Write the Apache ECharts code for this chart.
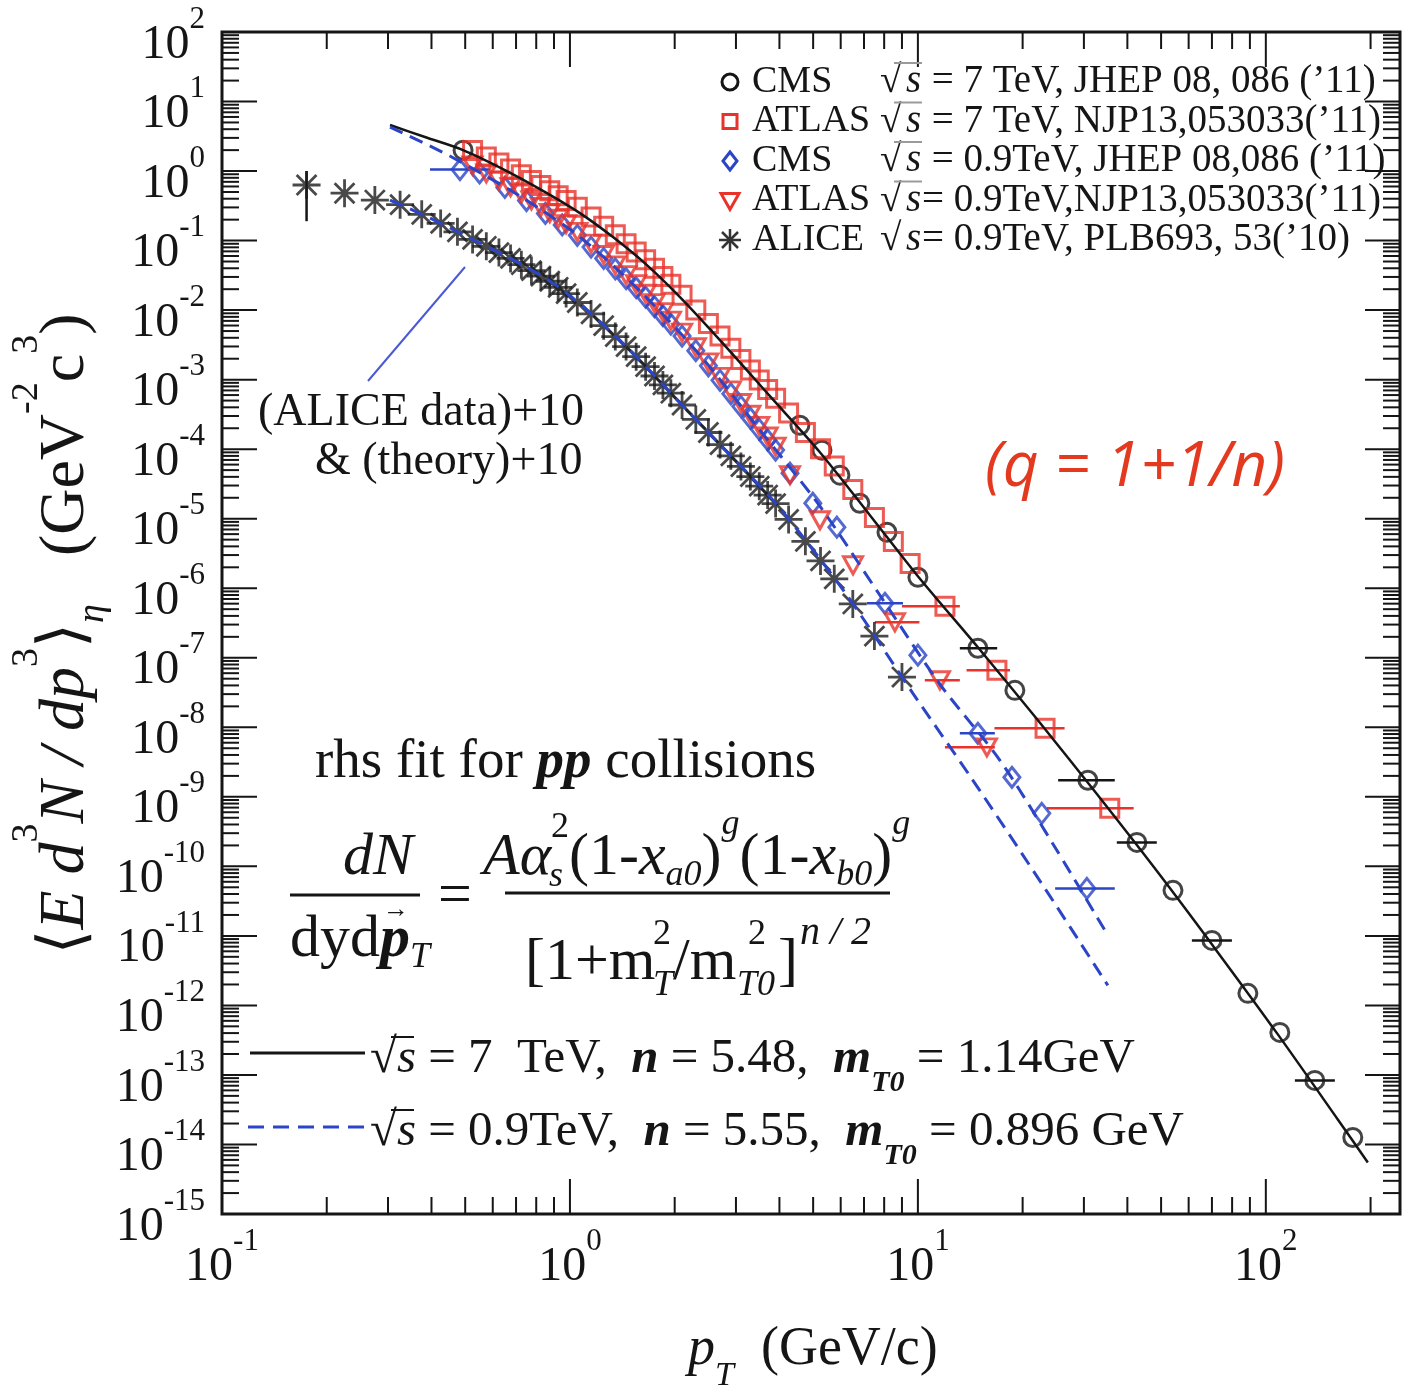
<!DOCTYPE html>
<html>
<head>
<meta charset="utf-8">
<title>pp spectra</title>
<script src="https://cdn.jsdelivr.net/npm/echarts@6/dist/echarts.min.js"></script>
<style>
  html, body { margin: 0; padding: 0; background: #ffffff; }
  #chart { width: 1403px; height: 1397px; }
</style>
</head>
<body>
<div id="chart"></div>
<script>
// ---------- axes ----------
const xDecades = [0.1, 1, 10, 100];
const yDecades = [1e2, 1e1, 1e0, 1e-1, 1e-2, 1e-3, 1e-4, 1e-5, 1e-6, 1e-7, 1e-8,
                  1e-9, 1e-10, 1e-11, 1e-12, 1e-13, 1e-14, 1e-15];
const xRange = [0.1, 243];
const yRange = [1e-15, 1e2];

// ---------- measured spectra: [pT (GeV/c), <E d3N/dp3>] ----------
const cms7 = [[0.493,2.0],[4.58,2.21e-4],[5.30,9.68e-5],
  [5.97,4.23e-5],[6.81,1.67e-5],[8.15,6.39e-6],[10.0,1.44e-6],[14.87,1.37e-7],[19.0,3.40e-8],
  [30.8,1.73e-9],[42.6,2.21e-10],[54.1,4.52e-11],[70.0,8.61e-12],[88.8,1.49e-12],[109.7,4.09e-13],
  [138.3,8.34e-14],[177.8,1.26e-14]];

const atlas7 = [[0.525,1.978],[0.575,1.592],[0.625,1.305],[0.675,1.072],[0.725,0.882],[0.775,0.734],
  [0.825,0.618],[0.875,0.523],[0.925,0.442],[0.975,0.377],[1.05,0.301],[1.15,0.2184],[1.25,0.1612],
  [1.35,0.1209],[1.45,0.0900],[1.55,0.0684],[1.65,0.0528],[1.75,0.0400],[1.85,0.0305],[1.95,0.0236],
  [2.1,0.01638],[2.3,0.01003],[2.5,6.41e-3],[2.7,4.23e-3],[2.9,2.83e-3],[3.1,1.95e-3],[3.3,1.373e-3],
  [3.5,9.87e-4],[3.7,7.23e-4],[3.9,5.38e-4],[4.25,3.32e-4],[4.75,1.74e-4],[5.25,1.012e-4],[5.75,5.71e-5],
  [6.5,2.63e-5],[7.5,1.041e-5],[8.5,4.70e-6],[9.5,2.26e-6],[11.96,5.51e-7],[16.87,6.61e-8],
  [23.2,9.68e-9],[35.6,6.84e-10]];

const cms09 = [[0.483,1.05],[0.55,0.938],[0.65,0.581],[0.75,0.377],[0.85,0.2456],[0.95,0.1679],
  [1.05,0.1192],[1.15,0.0806],[1.25,0.0554],[1.35,0.0392],[1.45,0.0283],[1.55,0.0210],[1.65,0.01535],
  [1.75,0.01122],[1.85,8.33e-3],[1.95,6.29e-3],[2.1,4.23e-3],[2.3,2.61e-3],[2.5,1.582e-3],[2.7,9.78e-4],
  [2.9,6.26e-4],[3.1,4.12e-4],[3.3,2.79e-4],[3.5,1.928e-4],[3.7,1.356e-4],[3.9,9.71e-5],[4.29,4.52e-5],
  [4.99,1.67e-5],[5.85,7.55e-6],[8.04,6.08e-7],[10.0,1.09e-7],[14.87,8.20e-9],[18.63,1.91e-9],
  [22.7,5.79e-10],[30.6,4.82e-11]];

const atlas09 = [[0.525,1.202],[0.575,0.926],[0.625,0.730],[0.675,0.586],[0.725,0.475],[0.775,0.378],
  [0.825,0.305],[0.875,0.2494],[0.925,0.2063],[0.975,0.1723],[1.05,0.1337],[1.15,0.0904],[1.25,0.0621],
  [1.35,0.0439],[1.45,0.0318],[1.55,0.0236],[1.65,0.01722],[1.75,0.01259],[1.85,9.35e-3],[1.95,7.06e-3],
  [2.1,4.75e-3],[2.3,2.92e-3],[2.5,1.775e-3],[2.7,1.098e-3],[2.9,7.02e-4],[3.1,4.62e-4],[3.3,3.13e-4],
  [3.5,2.16e-4],[3.7,1.52e-4],[3.9,1.089e-4],[4.29,4.23e-5],[5.23,9.51e-6],[6.51,2.14e-6],
  [8.59,3.24e-7],[11.57,4.75e-8],[15.79,5.15e-9]];

// ALICE points (already shifted as stated on the plot)
const alice = [[0.175,0.63],[0.225,0.48],[0.275,0.383],[0.325,0.329],[0.375,0.2384],[0.425,0.1765],
  [0.475,0.1336],[0.525,0.104],[0.575,0.0828],[0.625,0.0672],[0.675,0.0554],[0.725,0.045],[0.775,0.037],
  [0.825,0.0309],[0.875,0.026],[0.925,0.0213],[0.975,0.0173],[1.05,0.01288],[1.15,8.81e-3],[1.25,5.97e-3],
  [1.35,4.17e-3],[1.45,2.99e-3],[1.55,2.14e-3],[1.65,1.537e-3],[1.75,1.128e-3],[1.85,8.41e-4],
  [1.95,6.38e-4],[2.1,4.32e-4],[2.3,2.68e-4],[2.5,1.738e-4],[2.7,1.163e-4],[2.9,8.02e-5],[3.1,5.64e-5],
  [3.3,4.04e-5],[3.5,2.94e-5],[3.7,2.19e-5],[3.9,1.65e-5],[4.25,9.75e-6],[4.75,4.73e-6],[5.25,2.47e-6],
  [5.75,1.365e-6],[6.5,5.94e-7],[7.5,2.05e-7],[9.0,5.28e-8]];

// bin widths drawn as horizontal bars: [pT, value, pT low, pT high]
const cms7Bins = [[14.87,1.37e-7,13.2,16.9],[30.8,1.73e-9,25.3,36.8],[42.6,2.21e-10,37.3,48.6],
  [70.0,8.61e-12,61.3,79.9],[138.3,8.34e-14,121.2,157.9]];
const atlas7Bins = [[11.96,5.51e-7,9.0,13.2],[16.87,6.61e-8,13.8,18.4],[23.2,9.68e-9,16.6,26.4],
  [35.6,6.84e-10,23.5,41.7]];
const cms09Bins = [[0.483,1.05,0.396,0.589],[8.04,6.08e-7,7.14,9.06],[14.87,8.20e-9,13.2,16.64],
  [30.6,4.82e-11,24.8,36.8]];
const atlas09Bins = [[8.59,3.24e-7,7.52,10.1],[11.57,4.75e-8,10.47,13.2],[15.79,5.15e-9,11.96,16.64]];
// vertical uncertainty of the lowest ALICE point: [pT, value, low, high]
const aliceErr = [[0.175,0.63,0.19,1.0]];

// ---------- fitted curves ----------
const fit7 = [[0.304,4.590],[0.3831,3.085],[0.4928,2.005],[0.6503,1.034],[0.8588,0.4826],[1.0684,0.2486],
  [1.3294,0.1123],[1.6645,0.04441],[2.0711,0.01538],[2.6979,3.702e-3],[3.7566,5.790e-4],[5.2281,9.05e-5],
  [7.2789,1.123e-5],[10.0,1.489e-6],[14.873,1.416e-7],[22.129,1.261e-8],[32.906,1.051e-9],[48.94,8.20e-11],
  [72.79,5.79e-12],[108.27,3.83e-13],[161.0,2.29e-14],[196.4,5.51e-15]];
const fit09 = [[0.304,4.297],[0.4518,1.644],[0.7182,0.4368],[1.0684,0.1123],[1.589,0.01877],
  [2.3633,2.252e-3],[3.5155,1.877e-4],[5.2281,1.513e-5],[7.777,7.93e-7],[11.568,4.16e-8],
  [17.208,3.35e-9],[25.08,1.70e-10],[35.16,1.017e-11]];
const fit09Alice = [[0.304,0.3826],[0.396,0.2108],[0.5161,0.1086],[0.6725,0.056],[0.8938,0.02445],
  [1.1189,0.0100],[1.487,2.657e-3],[2.1685,3.640e-4],[3.0188,6.502e-5],[4.0125,1.416e-5],
  [6.2514,7.93e-7],[9.6746,3.084e-8],[14.39,1.728e-9],[22.868,5.33e-11],[35.156,1.940e-12]];

// ---------- styling ----------
const ink = '#151515';
const red = '#e8322a';
const blue = '#2b45c6';
const serif = '"Liberation Serif","DejaVu Serif",serif';

// tick marks on all four sides: [x, y, length, axis(0 = x, 1 = y)]
const tickData = [];
xDecades.forEach(d => {
  tickData.push([d, 1, 35, 0]);
  for (let k = 2; k <= 9; k++) if (d * k <= xRange[1]) tickData.push([d * k, 1, 17, 0]);
});
yDecades.forEach(d => {
  tickData.push([1, d, 35, 1]);
  for (let k = 2; k <= 9; k++) if (d * k < yRange[1]) tickData.push([1, d * k, 17, 1]);
});

// decade labels written as powers of ten: [x, y, axis(0 = x, 1 = y)]
const labelData = xDecades.map(d => [d, 1, 0]).concat(yDecades.map(d => [1, d, 1]));
function powerText(v) {
  const e = Math.round(Math.log10(v));
  return '{b|10}{s|' + (e < 0 ? '-' + (-e) : e) + '}';
}
const labelRich = {
  b: { fontFamily: serif, fontSize: 48, height: 48, padding: [26, 0, 0, 0] },
  s: { fontFamily: serif, fontSize: 31, height: 31, padding: [9, 0, 34, 0] }
};

function barSeries(data, color, vertical) {
  return {
    type: 'custom', coordinateSystem: 'cartesian2d', data, silent: true, z: 2, clip: false,
    renderItem(params, api) {
      const x = api.value(0), y = api.value(1), lo = api.value(2), hi = api.value(3);
      const a = vertical ? api.coord([x, lo]) : api.coord([lo, y]);
      const b = vertical ? api.coord([x, hi]) : api.coord([hi, y]);
      return { type: 'line', shape: { x1: a[0], y1: a[1], x2: b[0], y2: b[1] },
               style: { stroke: color, lineWidth: 2.5 } };
    }
  };
}

function markSeries(name, data, symbol, size, color, z, extra) {
  return Object.assign({
    name, type: 'scatter', data, symbol, symbolSize: size, z,
    itemStyle: { color: 'rgba(255,255,255,0)', borderColor: color, borderWidth: 3 },
    emphasis: { disabled: true }, silent: true
  }, extra || {});
}

const asteriskPath = 'path://M12,0L12,24M0,12L24,12M3.5,3.5L20.5,20.5M3.5,20.5L20.5,3.5';

// ---------- text and decoration ----------
function text(x, y, str, size, o) {
  return { type: 'text', x, y, z: 30, silent: true,
    style: Object.assign({ text: str, fill: ink, fontFamily: serif, fontSize: size,
      textAlign: 'left', textVerticalAlign: 'middle' }, o || {}) };
}
function line(x1, y1, x2, y2, color, w, dash) {
  const st = { stroke: color, lineWidth: w };
  if (dash) st.lineDash = dash;
  return { type: 'line', z: 30, silent: true, shape: { x1, y1, x2, y2 }, style: st };
}

const graphics = [];

// legend of the data sets
const legendRows = [
  { name: 'CMS',   info: ' = 7 TeV, JHEP 08, 086 (\u201911)', mark: 'circle',   bar: true },
  { name: 'ATLAS', info: ' = 7 TeV, NJP13,053033(\u201911)',   mark: 'square',   bar: true },
  { name: 'CMS',   info: ' = 0.9TeV, JHEP 08,086 (\u201911)',  mark: 'diamond',  bar: true },
  { name: 'ATLAS', info: '= 0.9TeV,NJP13,053033(\u201911)',    mark: 'triangle', bar: true },
  { name: 'ALICE', info: '= 0.9TeV, PLB693, 53(\u201910)',     mark: 'star',     bar: false }
];
legendRows.forEach((r, i) => {
  const y = 82 + i * 39.5, cx = 730;
  if (r.mark === 'circle') {
    graphics.push({ type: 'circle', z: 30, shape: { cx, cy: y, r: 8 }, style: { fill: 'none', stroke: ink, lineWidth: 3 } });
  } else if (r.mark === 'square') {
    graphics.push({ type: 'rect', z: 30, shape: { x: cx - 7, y: y - 7, width: 14, height: 14 }, style: { fill: 'none', stroke: red, lineWidth: 3 } });
  } else if (r.mark === 'diamond') {
    graphics.push({ type: 'polygon', z: 30, shape: { points: [[cx, y - 9], [cx + 7, y], [cx, y + 9], [cx - 7, y]] }, style: { fill: 'none', stroke: blue, lineWidth: 3 } });
  } else if (r.mark === 'triangle') {
    graphics.push({ type: 'polygon', z: 30, shape: { points: [[cx - 9, y - 7], [cx + 9, y - 7], [cx, y + 9]] }, style: { fill: 'none', stroke: red, lineWidth: 3 } });
  } else {
    [[0, -11, 0, 11], [-11, 0, 11, 0], [-8, -8, 8, 8], [-8, 8, 8, -8]].forEach(s =>
      graphics.push(line(cx + s[0], y + s[1], cx + s[2], y + s[3], '#333', 2.5)));
  }
  graphics.push(text(752, y, r.name, 38));
  graphics.push(text(880, y, '\u221A', 39));
  graphics.push(text(906, y, 's', 39, { fontStyle: 'italic' }));
  if (r.bar) graphics.push(line(894, y - 19, 922, y - 19, '#9a9a9a', 2));
  graphics.push(text(922, y, r.info, 39));
});

// pointer to the shifted ALICE set
graphics.push(line(368, 381, 465, 267, '#4a5ad4', 2));
graphics.push(text(258, 413, '(ALICE data)+10', 46));
graphics.push(text(315, 462, '& (theory)+10', 46));

// red note
graphics.push(text(985, 468, '(q = 1+1/n)', 62, { fontFamily: '"Open Sans",sans-serif', fontStyle: 'italic', fill: '#e3391f' }));

// fit heading
graphics.push(text(315, 763, '{r|rhs fit for }{b|pp}{r| collisions}', 55, {
  rich: { r: { fontFamily: serif, fontSize: 55 },
          b: { fontFamily: serif, fontSize: 55, fontStyle: 'italic', fontWeight: 'bold' } } }));

// formula: rich tokens share one box height, offsets come from padding
const mRich = {
  r:   { fontFamily: serif, fontSize: 60, height: 60, padding: [28, 0, 16, 0] },
  i:   { fontFamily: serif, fontSize: 60, height: 60, fontStyle: 'italic', padding: [28, 0, 16, 0] },
  bi:  { fontFamily: serif, fontSize: 60, height: 60, fontStyle: 'italic', fontWeight: 'bold', padding: [28, 0, 16, 0] },
  sup: { fontFamily: serif, fontSize: 36, height: 36, padding: [7, 0, 61, 0] },
  supi:{ fontFamily: serif, fontSize: 36, height: 36, fontStyle: 'italic', padding: [7, 0, 61, 0] },
  sub: { fontFamily: serif, fontSize: 36, height: 36, fontStyle: 'italic', padding: [58, 0, 10, 0] }
};
function mtext(x, y, str, align) {
  return text(x, y, str, 60, { rich: mRich, textAlign: align || 'left' });
}
// left fraction dN / dy dp_T
graphics.push(mtext(378, 852, '{i|dN}', 'center'));
graphics.push(line(290, 895, 420, 895, ink, 3));
graphics.push(mtext(290, 934, '{r|dyd}{bi|p}{sub|T}'));
graphics.push(text(396, 910, '\u2192', 26, { textAlign: 'center', fontWeight: 'bold' }));
graphics.push(mtext(455, 891, '{r|=}', 'center'));
// numerator
graphics.push(mtext(483, 852, '{i|A\u03B1}'));
graphics.push(text(551, 828, '2', 36));
graphics.push(text(549, 877, 's', 36, { fontStyle: 'italic' }));
graphics.push(mtext(569, 852, '{r|(1-}{i|x}{sub|a0}{r|)}{supi|g}{r|(1-}{i|x}{sub|b0}{r|)}{supi|g}'));
graphics.push(line(505, 893, 890, 893, ink, 3));
// denominator
graphics.push(mtext(525, 957, '{r|[1+m}'));
graphics.push(text(653, 986, 'T', 36, { fontStyle: 'italic' }));
graphics.push(text(653, 935, '2', 36));
graphics.push(mtext(673, 957, '{r|/m}'));
graphics.push(text(737, 986, 'T0', 36, { fontStyle: 'italic' }));
graphics.push(text(748, 935, '2', 36));
graphics.push(mtext(778, 957, '{r|]}'));
graphics.push(text(800, 933, 'n / 2', 40, { fontStyle: 'italic' }));

// legend of the two fits
const fRich = {
  r:  { fontFamily: serif, fontSize: 49, height: 49, padding: [0, 0, 21, 0] },
  i:  { fontFamily: serif, fontSize: 49, height: 49, fontStyle: 'italic', padding: [0, 0, 21, 0] },
  bi: { fontFamily: serif, fontSize: 49, height: 49, fontStyle: 'italic', fontWeight: 'bold', padding: [0, 0, 21, 0] },
  sub:{ fontFamily: serif, fontSize: 30, height: 30, fontStyle: 'italic', fontWeight: 'bold', padding: [33, 0, 7, 0] }
};
graphics.push(line(250, 1053, 365, 1053, ink, 3));
graphics.push(text(370, 1070, '{r|\u221A}{i|s}{r| = 7  TeV,  }{bi|n}{r| = 5.48,  }{bi|m}{sub|T0}{r| = 1.14GeV}', 49, { rich: fRich }));
graphics.push(line(391, 1037, 414, 1037, ink, 2));
graphics.push(line(248, 1127, 370, 1127, blue, 3, [16, 9]));
graphics.push(text(370, 1143, '{r|\u221A}{i|s}{r| = 0.9TeV,  }{bi|n}{r| = 5.55,  }{bi|m}{sub|T0}{r| = 0.896 GeV}', 49, { rich: fRich }));
graphics.push(line(391, 1110, 414, 1110, ink, 2));

// axis titles
graphics.push(text(688, 1365, '{b|p}{s|T}{r|  (GeV/c)}', 54, {
  rich: { b: { fontFamily: serif, fontSize: 54, height: 54, fontStyle: 'italic', padding: [0, 0, 30, 0] },
          r: { fontFamily: serif, fontSize: 54, height: 54, padding: [0, 0, 30, 0] },
          s: { fontFamily: serif, fontSize: 34, height: 34, fontStyle: 'italic', padding: [36, 0, 14, 0] } } }));
graphics.push({ type: 'text', x: 62, y: 634, rotation: Math.PI / 2, z: 30, silent: true,
  style: { text: '{r|\u27E8}{i|E d}{p|3}{i|N / dp}{p|3}{r|\u27E9}{q|\u03B7}{r|   (GeV}{p|-2}{r|c}{p|3}{r|)}',
    fill: ink, textAlign: 'center', textVerticalAlign: 'middle',
    rich: {
      r: { fontFamily: serif, fontSize: 64, height: 64, padding: [27, 0, 19, 0] },
      i: { fontFamily: serif, fontSize: 64, height: 64, fontStyle: 'italic', padding: [27, 0, 19, 0] },
      p: { fontFamily: serif, fontSize: 38, height: 38, padding: [1, 0, 71, 0] },
      q: { fontFamily: serif, fontSize: 38, height: 38, fontStyle: 'italic', padding: [67, 0, 5, 0] }
    } } });

// ---------- chart ----------
const chart = echarts.init(document.getElementById('chart'), null, { renderer: 'canvas' });
chart.setOption({
  animation: false,
  backgroundColor: '#ffffff',
  grid: { left: 222, top: 32, right: 3, bottom: 183, show: true, borderColor: ink, borderWidth: 3,
          backgroundColor: 'rgba(0,0,0,0)' },
  xAxis: {
    type: 'log', logBase: 10, min: xRange[0], max: xRange[1],
    axisLine: { show: false }, axisTick: { show: false }, splitLine: { show: false },
    axisLabel: { show: false }
  },
  yAxis: {
    type: 'log', logBase: 10, min: yRange[0], max: yRange[1],
    axisLine: { show: false }, axisTick: { show: false }, splitLine: { show: false },
    axisLabel: { show: false }
  },
  series: [
    {
      // tick marks drawn inward on all four frame sides
      type: 'custom', coordinateSystem: 'cartesian2d', data: tickData, silent: true, clip: false, z: 10,
      renderItem(params, api) {
        const cs = params.coordSys;
        const p = api.coord([api.value(0), api.value(1)]);
        const len = api.value(2);
        const st = { stroke: ink, lineWidth: 2 };
        const bottom = cs.y + cs.height, right = cs.x + cs.width;
        if (api.value(3) === 0) {
          return { type: 'group', children: [
            { type: 'line', shape: { x1: p[0], y1: bottom, x2: p[0], y2: bottom - len }, style: st },
            { type: 'line', shape: { x1: p[0], y1: cs.y, x2: p[0], y2: cs.y + len }, style: st } ] };
        }
        return { type: 'group', children: [
          { type: 'line', shape: { x1: cs.x, y1: p[1], x2: cs.x + len, y2: p[1] }, style: st },
          { type: 'line', shape: { x1: right, y1: p[1], x2: right - len, y2: p[1] }, style: st } ] };
      }
    },
    {
      // decade labels placed through the axis scales
      type: 'custom', coordinateSystem: 'cartesian2d', data: labelData, silent: true, clip: false, z: 10,
      renderItem(params, api) {
        const cs = params.coordSys;
        const isX = api.value(2) === 0;
        const v = isX ? api.value(0) : api.value(1);
        const p = api.coord([api.value(0), api.value(1)]);
        return {
          type: 'text',
          x: isX ? p[0] : cs.x - 17,
          y: isX ? cs.y + cs.height + 3 : p[1],
          style: { text: powerText(v), rich: labelRich, fill: ink,
                   textAlign: isX ? 'center' : 'right', textVerticalAlign: isX ? 'top' : 'middle' }
        };
      }
    },
    barSeries(cms7Bins, ink, false),
    barSeries(atlas7Bins, red, false),
    barSeries(cms09Bins, blue, false),
    barSeries(atlas09Bins, red, false),
    barSeries(aliceErr, ink, true),
    markSeries('ALICE', alice, asteriskPath, 28, '#1c1c1c', 2, { itemStyle: { color: 'rgba(0,0,0,0)', borderColor: '#1c1c1c', borderWidth: 2.8 } }),
    markSeries('CMS 7 TeV', cms7, 'circle', 18, ink, 2),
    markSeries('CMS 0.9 TeV', cms09, 'diamond', [16, 20], blue, 3),
    markSeries('ATLAS 0.9 TeV', atlas09, 'triangle', [19, 17], red, 3, { symbolRotate: 180 }),
    markSeries('ATLAS 7 TeV', atlas7, 'rect', 18, red, 3),
    { name: 'fit 7 TeV', type: 'line', data: fit7, symbol: 'none', smooth: 0.3, z: 5, silent: true,
      lineStyle: { color: ink, width: 2.5 } },
    { name: 'fit 0.9 TeV', type: 'line', data: fit09, symbol: 'none', smooth: 0.3, z: 5, silent: true,
      lineStyle: { color: blue, width: 3, type: [14, 8] } },
    { name: 'fit 0.9 TeV (ALICE)', type: 'line', data: fit09Alice, symbol: 'none', smooth: 0.3, z: 5, silent: true,
      lineStyle: { color: blue, width: 3, type: [14, 8] } }
  ],
  graphic: { elements: graphics }
});
</script>
</body>
</html>
